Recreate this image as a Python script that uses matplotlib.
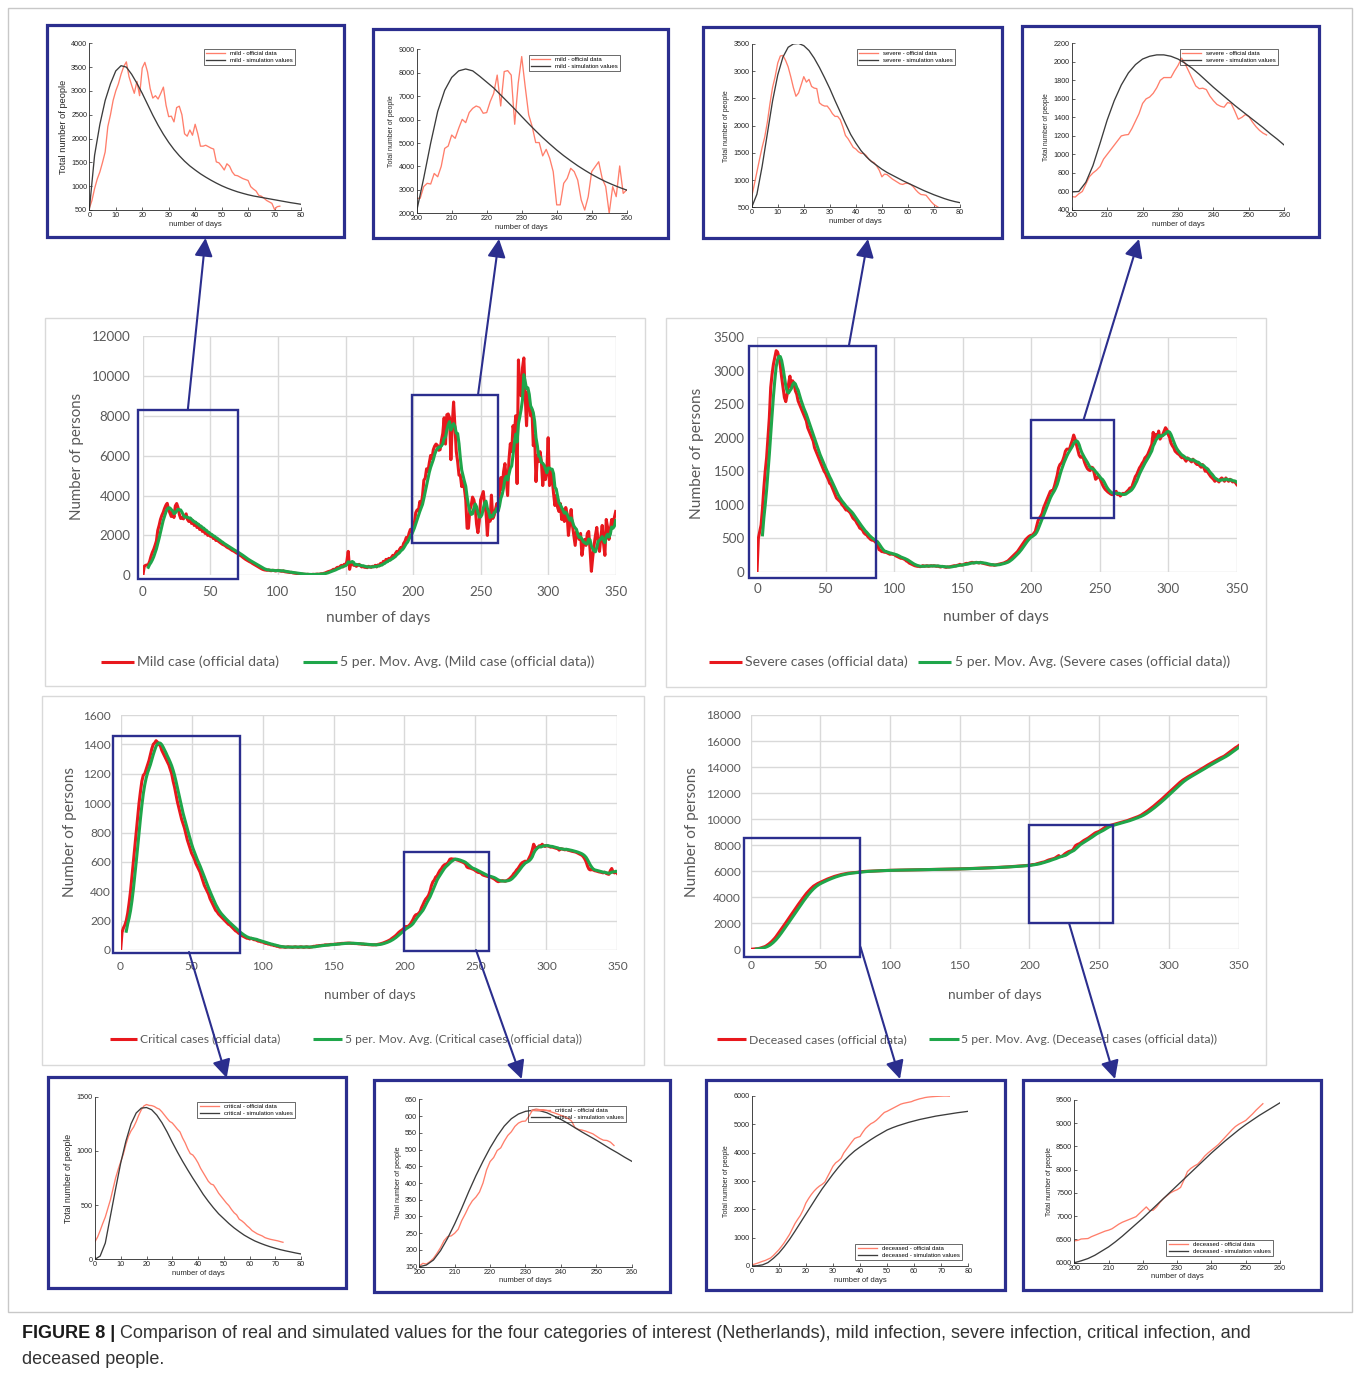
import numpy as np
import pandas as pd
import matplotlib
matplotlib.use("Agg")
import matplotlib.pyplot as plt
from matplotlib.patches import Rectangle, FancyArrowPatch

# ---------------------------------------------------------------------------
# Official daily counts, day 0 .. 350
# ---------------------------------------------------------------------------
mild_official = [
    0, 450, 500, 520, 535, 700, 950, 1150, 1300, 1500,
    1720, 2250, 2500, 2800, 3000, 3150, 3350, 3510, 3610, 3300,
    3120, 2950, 3200, 2900, 3480, 3600, 3400, 3050, 2850, 2900,
    2830, 2950, 3080, 2800, 2700, 2850, 2600, 2750, 2500, 2650,
    2400, 2550, 2300, 2450, 2200, 2350, 2100, 2200, 2000, 2100,
    1950, 2000, 1850, 1900, 1750, 1800, 1700, 1650, 1600, 1550,
    1520, 1480, 1420, 1380, 1350, 1300, 1250, 1220, 1180, 1130,
    1100, 1050, 1000, 960, 900, 850, 800, 760, 720, 680,
    650, 600, 560, 520, 480, 440, 400, 360, 320, 290,
    270, 260, 250, 270, 240, 230, 250, 240, 220, 230,
    250, 230, 210, 200, 220, 180, 170, 160, 150, 140,
    150, 120, 110, 100, 90, 80, 70, 60, 60, 50,
    50, 40, 50, 40, 30, 40, 50, 40, 50, 60,
    50, 60, 80, 70, 100, 120, 150, 180, 200, 220,
    250, 300, 280, 350, 400, 380, 450, 500, 420, 550,
    500, 700, 1200, 300, 600, 650, 500, 550, 450, 500,
    550, 480, 420, 450, 400, 430, 380, 450, 420, 400,
    450, 430, 500, 420, 520, 480, 600, 550, 700, 650,
    800, 700, 850, 780, 900, 1000, 950, 1100, 1200, 1150,
    1300, 1400, 1350, 1600, 1700, 1900, 1800, 2100, 2300, 2200,
    2640, 2640, 3140, 3280, 3250, 3700, 3560, 4000, 4770, 4870,
    5340, 5200, 5630, 6010, 5870, 6300, 6480, 6580, 6520, 6270,
    6300, 6770, 7120, 7900, 6580, 8050, 8090, 7900, 5800, 7550,
    8690, 7400, 6200, 5700, 5020, 5020, 4450, 4730, 4350, 3780,
    2360, 2360, 3280, 3490, 3920, 3780, 3420, 2570, 2140, 2710,
    3780, 3990, 4200, 3490, 3140, 2000, 3140, 2710, 4020, 2850,
    3000, 3300, 3600, 3300, 4200, 4900, 4300, 5200, 5600, 4800,
    4000, 5800, 6600, 6200, 7500, 7100, 8000, 4600, 10800, 9200,
    9000, 10400, 10900, 9000, 7500, 9200, 8800, 8000, 8300, 6500,
    7000, 4700, 6000, 5700, 6200, 5700, 4500, 5500, 4800, 5200,
    6900, 4500, 5200, 4800, 4100, 3500, 4000, 3400, 3200, 3600,
    2800, 3300, 2700, 3400, 3100, 2000, 2600, 3300, 2500, 2000,
    1500, 2200, 2000, 1800, 2100, 1000, 1500, 1800, 1500, 2100,
    2200, 1300, 200, 900, 1500, 2000, 2400, 1700, 1200, 1900,
    2500, 1600, 1000, 2800, 2400, 1800, 2300, 2800, 2500, 2900,
    3200,
]

severe_official = [
    0, 500, 600, 700, 950, 1250, 1500, 1700, 2000, 2300,
    2750, 2950, 3100, 3200, 3300, 3280, 3200, 3080, 2900, 2750,
    2600, 2540, 2650, 2800, 2920, 2750, 2850, 2800, 2700, 2650,
    2550, 2500, 2450, 2400, 2350, 2300, 2250, 2150, 2100, 2050,
    2000, 1950, 1850, 1800, 1750, 1700, 1650, 1600, 1550, 1500,
    1470, 1420, 1380, 1320, 1300, 1250, 1200, 1150, 1100, 1080,
    1060, 1040, 1000, 980, 950, 920, 930, 900, 880, 840,
    800, 780, 760, 720, 690, 650, 640, 620, 580, 560,
    550, 520, 500, 480, 470, 480, 450, 430, 400, 330,
    320, 300, 300, 290, 300, 280, 270, 260, 270, 260,
    260, 240, 230, 220, 210, 200, 200, 190, 180, 160,
    150, 130, 120, 110, 100, 90, 85, 80, 80, 75,
    80, 90, 80, 85, 90, 80, 85, 90, 85, 90,
    85, 80, 85, 75, 70, 80, 75, 70, 65, 70,
    70, 75, 80, 85, 90, 85, 95, 100, 110, 100,
    100, 110, 120, 125, 120, 130, 135, 140, 130, 135,
    140, 135, 130, 140, 130, 125, 120, 115, 110, 105,
    100, 100, 105, 95, 100, 105, 110, 115, 120, 125,
    130, 140, 150, 160, 180, 200, 220, 240, 260, 280,
    300, 330, 360, 390, 420, 450, 480, 500, 520, 535,
    545, 540, 575, 600, 680, 760, 800, 830, 870, 950,
    1000, 1050, 1100, 1150, 1200, 1210, 1215, 1280, 1360, 1440,
    1550, 1600, 1620, 1660, 1720, 1800, 1830, 1830, 1830, 1900,
    1960, 2040, 1980, 1900, 1820, 1740, 1710, 1715, 1700, 1630,
    1580, 1540, 1520, 1510, 1560, 1550, 1470, 1380, 1400, 1430,
    1410, 1350, 1300, 1260, 1230, 1210, 1190, 1175, 1160, 1150,
    1170, 1180, 1200, 1150, 1160, 1130, 1150, 1170, 1160, 1180,
    1200, 1220, 1250, 1230, 1300, 1360, 1420, 1450, 1500, 1550,
    1580, 1620, 1650, 1700, 1720, 1750, 1800, 1850, 1900, 2080,
    1950, 2050, 2000, 2100, 1980, 2020, 2050, 2100, 2150, 2120,
    2050, 2000, 1920, 1880, 1850, 1800, 1780, 1760, 1750, 1720,
    1700, 1720, 1680, 1650, 1700, 1680, 1660, 1640, 1680, 1650,
    1620, 1600, 1620, 1580, 1560, 1600, 1550, 1500, 1520, 1480,
    1450, 1420, 1400, 1380, 1350, 1380, 1360, 1340, 1380, 1400,
    1380, 1350, 1400, 1370, 1350, 1380, 1360, 1340, 1350, 1330,
    1300,
]

critical_official = [
    0, 120, 150, 170, 200, 250, 320, 400, 500, 600,
    700, 800, 900, 1000, 1080, 1150, 1190, 1200, 1230, 1260,
    1290, 1330, 1370, 1400, 1410, 1425, 1415, 1400, 1390, 1360,
    1340, 1320, 1300, 1280, 1260, 1230, 1200, 1150, 1110, 1060,
    1010, 970, 930, 890, 860, 830, 790, 750, 720, 690,
    660, 640, 620, 590, 570, 550, 530, 500, 470, 440,
    420, 400, 380, 350, 330, 310, 290, 270, 260, 245,
    235, 225, 215, 205, 195, 185, 175, 170, 160, 150,
    140, 130, 125, 115, 110, 100, 95, 90, 85, 80,
    80, 75, 80, 75, 70, 70, 65, 60, 60, 55,
    55, 50, 45, 45, 40, 40, 35, 35, 30, 30,
    25, 25, 20, 20, 22, 20, 18, 20, 22, 20,
    20, 18, 20, 22, 20, 18, 20, 22, 20, 18,
    20, 22, 20, 18, 20, 22, 25, 25, 28, 28,
    30, 30, 32, 32, 35, 35, 35, 36, 38, 38,
    38, 40, 40, 42, 42, 44, 45, 45, 46, 46,
    47, 47, 46, 45, 45, 44, 44, 43, 42, 42,
    40, 40, 38, 38, 37, 36, 36, 35, 35, 36,
    35, 38, 40, 42, 45, 48, 52, 56, 60, 65,
    70, 78, 85, 92, 100, 110, 120, 128, 135, 142,
    152, 160, 158, 165, 175, 190, 207, 228, 240, 242,
    250, 262, 288, 308, 330, 347, 358, 373, 400, 439,
    464, 476, 497, 505, 525, 542, 553, 569, 579, 584,
    585, 600, 618, 621, 619, 619, 617, 613, 610, 606,
    602, 598, 593, 585, 565, 560, 558, 555, 551, 547,
    540, 533, 528, 527, 522, 512, 508, 505, 502, 500,
    500, 495, 490, 485, 478, 470, 465, 468, 470, 472,
    470, 468, 472, 478, 485, 495, 505, 520, 530, 545,
    555, 570, 585, 595, 600, 605, 600, 610, 630, 650,
    680, 720, 700, 690, 700, 710, 705, 720, 710, 705,
    712, 708, 705, 700, 702, 698, 695, 692, 690, 680,
    690, 688, 685, 682, 685, 680, 678, 675, 672, 670,
    668, 665, 660, 655, 650, 645, 635, 620, 600, 570,
    550, 545, 548, 545, 540, 538, 535, 532, 530, 528,
    525, 530, 522, 518, 515, 540, 555, 530, 525, 532,
    520,
]

deceased_official = [
    0, 10, 20, 30, 40, 50, 70, 100, 130, 170,
    200, 260, 330, 410, 500, 600, 710, 830, 960, 1110,
    1260, 1410, 1560, 1710, 1860, 2020, 2180, 2340, 2490, 2650,
    2800, 2960, 3120, 3280, 3430, 3580, 3730, 3880, 4020, 4160,
    4300, 4420, 4540, 4650, 4750, 4850, 4920, 4990, 5050, 5100,
    5150, 5200, 5250, 5300, 5350, 5400, 5440, 5480, 5520, 5560,
    5600, 5630, 5660, 5690, 5720, 5750, 5770, 5790, 5810, 5830,
    5850, 5860, 5870, 5880, 5890, 5900, 5910, 5920, 5940, 5960,
    5970, 5980, 5985, 5990, 5995, 6000, 6005, 6010, 6020, 6025,
    6030, 6035, 6040, 6045, 6050, 6052, 6055, 6058, 6062, 6065,
    6068, 6070, 6072, 6075, 6078, 6080, 6082, 6085, 6088, 6090,
    6092, 6094, 6096, 6098, 6100, 6102, 6104, 6106, 6108, 6110,
    6112, 6114, 6116, 6118, 6120, 6122, 6124, 6126, 6128, 6130,
    6132, 6134, 6136, 6138, 6140, 6142, 6144, 6146, 6148, 6150,
    6152, 6154, 6156, 6158, 6160, 6163, 6166, 6169, 6172, 6175,
    6178, 6181, 6184, 6187, 6190, 6194, 6198, 6202, 6206, 6210,
    6214, 6218, 6222, 6226, 6230, 6234, 6238, 6242, 6246, 6250,
    6255, 6260, 6265, 6270, 6275, 6280, 6285, 6290, 6295, 6300,
    6306, 6312, 6318, 6324, 6330, 6337, 6344, 6351, 6358, 6365,
    6373, 6381, 6389, 6397, 6405, 6414, 6423, 6432, 6441, 6450,
    6470, 6480, 6510, 6515, 6520, 6560, 6590, 6620, 6650, 6680,
    6700, 6730, 6780, 6830, 6870, 6900, 6930, 6960, 6990, 7060,
    7130, 7200, 7120, 7130, 7200, 7300, 7380, 7440, 7500, 7540,
    7570, 7620, 7780, 7960, 8030, 8080, 8120, 8200, 8290, 8360,
    8420, 8480, 8540, 8620, 8700, 8780, 8860, 8930, 8980, 9020,
    9060, 9130, 9200, 9280, 9350, 9420, 9460, 9490, 9520, 9550,
    9580, 9610, 9640, 9670, 9700, 9730, 9760, 9790, 9820, 9850,
    9880, 9920, 9960, 10000, 10040, 10080, 10120, 10160, 10200, 10250,
    10300, 10370, 10440, 10510, 10580, 10660, 10740, 10820, 10900, 10990,
    11080, 11170, 11260, 11350, 11440, 11540, 11640, 11740, 11840, 11940,
    12040, 12140, 12240, 12340, 12440, 12540, 12640, 12740, 12830, 12920,
    13000, 13070, 13140, 13210, 13270, 13330, 13390, 13450, 13510, 13570,
    13630, 13700, 13760, 13830, 13900, 13960, 14030, 14100, 14160, 14220,
    14280, 14340, 14400, 14460, 14520, 14580, 14640, 14700, 14750, 14800,
    14860, 14940, 15020, 15100, 15180, 15260, 15340, 15420, 15500, 15560,
    15640,
]

# First-wave official series counted from the model's day 0
mild_wave1_official = [
    535, 700, 950, 1150, 1300, 1500, 1720, 2250, 2500, 2800,
    3000, 3150, 3350, 3510, 3610, 3300, 3120, 2950, 3200, 2900,
    3480, 3600, 3400, 3050, 2850, 2900, 2830, 2950, 3080, 2700,
    2460, 2470, 2350, 2650, 2680, 2500, 2100, 2050, 2180, 2070,
    2300, 2100, 1840, 1840, 1860, 1830, 1800, 1780, 1510, 1490,
    1420, 1340, 1470, 1420, 1300, 1230, 1220, 1190, 1160, 1140,
    1120, 990, 940, 900, 810, 790, 750, 700, 670, 640,
    510, 570, 580,
]
severe_wave1_official = [
    696, 920, 1150, 1380, 1600, 1790, 2060, 2400, 2700, 2900,
    3150, 3280, 3290, 3200, 3080, 2900, 2700, 2540, 2600, 2750,
    2900, 2800, 2850, 2720, 2690, 2680, 2420, 2380, 2360, 2360,
    2300, 2220, 2170, 2170, 2110, 1980, 1820, 1760, 1680, 1600,
    1570, 1520, 1490, 1490, 1450, 1380, 1345, 1320, 1260, 1180,
    1060, 1110, 1100, 1060, 1020, 990, 960, 930, 920, 940,
    940, 920, 880, 820, 770, 735, 730, 720, 660, 600,
    550, 520, 490,
]
critical_wave1_official = [
    163, 205, 265, 330, 390, 470, 550, 650, 750, 830,
    900, 970, 1060, 1135, 1185, 1220, 1270, 1330, 1380, 1415,
    1428, 1420, 1418, 1410, 1395, 1385, 1360, 1330, 1300, 1272,
    1258, 1230, 1200, 1175, 1120, 1075, 1020, 975, 962, 930,
    890, 840, 800, 760, 720, 695, 686, 650, 610, 580,
    550, 520, 495, 460, 430, 410, 370, 355, 335, 310,
    290, 265, 250, 235, 225, 215, 200, 192, 185, 180,
    175, 170, 163, 157,
]
deceased_wave1_official = [
    35, 65, 95, 130, 165, 195, 240, 285, 370, 470,
    570, 690, 820, 970, 1120, 1310, 1500, 1650, 1790, 1980,
    2220, 2380, 2520, 2640, 2740, 2820, 2880, 2960, 3150, 3330,
    3520, 3640, 3710, 3800, 3990, 4120, 4250, 4380, 4500, 4540,
    4570, 4720, 4850, 4940, 5020, 5070, 5140, 5230, 5330, 5420,
    5460, 5510, 5560, 5610, 5660, 5710, 5740, 5760, 5780, 5800,
    5840, 5870, 5900, 5920, 5945, 5960, 5970, 5978, 5985, 5990,
    5995, 6000, 6000, 5995,
]

# Model output, sampled every second day
sim_days_wave1 = np.arange(0, 81, 2)
sim_days_wave2 = np.arange(200, 261, 2)
mild_sim_wave1 = [
    500, 1650, 2300, 2800, 3150, 3420, 3530, 3500, 3350, 3160,
    2950, 2720, 2490, 2280, 2090, 1920, 1770, 1640, 1525, 1425,
    1340, 1260, 1190, 1125, 1065, 1010, 962, 920, 882, 850,
    820, 795, 775, 755, 735, 715, 695, 675, 655, 638, 620,
]
mild_sim_wave2 = [
    2100, 3500, 5000, 6350, 7250, 7800, 8080, 8160, 8080, 7850,
    7600, 7350, 7050, 6750, 6450, 6130, 5820, 5520, 5230, 4960,
    4700, 4460, 4240, 4030, 3840, 3660, 3500, 3350, 3220, 3100, 2990,
]
severe_sim_wave1 = [
    500, 740, 1250, 1850, 2450, 2930, 3260, 3440, 3500, 3510,
    3470, 3380, 3240, 3070, 2880, 2680, 2460, 2250, 2040, 1840,
    1680, 1540, 1430, 1340, 1270, 1200, 1140, 1090, 1040, 990,
    945, 900, 855, 810, 770, 730, 695, 660, 630, 605, 585,
]
severe_sim_wave2 = [
    595, 600, 700, 880, 1120, 1370, 1580, 1750, 1880, 1970,
    2030, 2060, 2075, 2075, 2060, 2030, 1985, 1930, 1865, 1795,
    1725, 1660, 1595, 1530, 1470, 1410, 1350, 1290, 1225, 1165, 1100,
]
critical_sim_wave1 = [
    0, 30, 150, 400, 650, 890, 1090, 1250, 1350, 1395,
    1400, 1380, 1330, 1260, 1175, 1080, 990, 905, 825, 748,
    675, 600, 535, 475, 420, 375, 330, 290, 255, 222,
    195, 170, 150, 132, 116, 102, 89, 78, 68, 58, 49,
]
critical_sim_wave2 = [
    150, 155, 170, 198, 235, 278, 325, 375, 422, 465,
    505, 540, 570, 592, 606, 614, 617, 616, 610, 600,
    590, 578, 565, 552, 540, 528, 515, 502, 490, 477, 465,
]
deceased_sim_wave1 = [
    0, 10, 40, 120, 270, 450, 680, 940, 1230, 1530,
    1830, 2130, 2430, 2720, 2980, 3240, 3480, 3700, 3890, 4060,
    4200, 4330, 4460, 4580, 4690, 4800, 4880, 4950, 5010, 5070,
    5120, 5170, 5210, 5250, 5290, 5320, 5350, 5380, 5410, 5435, 5460,
]
deceased_sim_wave2 = [
    6000, 6040, 6090, 6160, 6250, 6340, 6450, 6570, 6700, 6830,
    6960, 7100, 7240, 7380, 7520, 7660, 7800, 7940, 8080, 8220,
    8360, 8490, 8620, 8740, 8860, 8970, 9070, 9170, 9260, 9350, 9440,
]

for series in (mild_official, severe_official, critical_official, deceased_official):
    assert len(series) == 351

# ---------------------------------------------------------------------------
# Figure set-up
# ---------------------------------------------------------------------------
W, H = 1360, 1378
fig = plt.figure(figsize=(W / 100, H / 100), dpi=100)
fig.patch.set_facecolor("white")
renderer = fig.canvas.get_renderer()

RED = "#E8181D"
GREEN = "#1FA64A"
BLUE = "#2B2E8E"
GRID = "#D9D9D9"
TXT = "#595959"
SALMON = "#FF7E6B"
SIMC = "#3C3C3C"
INK = "#262626"
MAIN_FONT = ["Lato", "DejaVu Sans"]
SMALL_FONT = ["Liberation Sans", "DejaVu Sans"]
plt.rcParams["font.family"] = MAIN_FONT


def axes_px(l, t, r, b, **kw):
    return fig.add_axes([l / W, 1 - b / H, (r - l) / W, (b - t) / H], **kw)


# full-figure layer in pixel units (y grows downwards) for frames, arrows, text
overlay = axes_px(0, 0, W, H, zorder=20)
overlay.set_xlim(0, W)
overlay.set_ylim(H, 0)
overlay.axis("off")


def fit(text, target, dim="width"):
    bb = text.get_window_extent(renderer)
    cur = bb.width if dim == "width" else bb.height
    text.set_fontsize(text.get_fontsize() * target / cur)
    return text.get_fontsize()


def main_panel(values, frame, plot, ymax, ystep, tick_pt, xpad, ypad, boxes,
               xlab, ylab, legend, names):
    l, t, r, b = frame
    overlay.add_patch(Rectangle((l, t), r - l, b - t, fill=False, ec=GRID, lw=1.0))
    ax = axes_px(*plot)
    s = pd.Series(values, index=np.arange(len(values)))
    ax.plot(s.index, s.values, color=RED, lw=2.2, zorder=3)
    ax.plot(s.index, s.rolling(5).mean().values, color=GREEN, lw=2.2, zorder=4)
    ax.set_xlim(0, 350)
    ax.set_ylim(0, ymax)
    ax.set_xticks(np.arange(0, 351, 50))
    ax.set_yticks(np.arange(0, ymax + 1, ystep))
    ax.grid(True, color=GRID, lw=1.0)
    ax.set_axisbelow(True)
    for sp in ax.spines.values():
        sp.set_visible(False)
    ax.tick_params(axis="x", length=0, labelsize=tick_pt, labelcolor=TXT, pad=xpad)
    ax.tick_params(axis="y", length=0, labelsize=tick_pt, labelcolor=TXT, pad=ypad)
    for x0, x1, y0, y1 in boxes:
        ax.add_patch(Rectangle((x0, y0), x1 - x0, y1 - y0, fill=False, ec=BLUE,
                               lw=1.7, clip_on=False, zorder=6))
    # axis titles
    tx = overlay.text(xlab[0], xlab[1], "number of days", ha="center", va="center",
                      color=TXT, fontsize=11)
    fit(tx, xlab[2])
    ty = overlay.text(ylab[0], ylab[1], "Number of persons", ha="center", va="center",
                      rotation=90, color=TXT, fontsize=11)
    fit(ty, ylab[2], "height")
    # legend row
    r0, r1, t1x, g0, g1, t2x, ly, w2 = legend
    overlay.plot([r0, r1], [ly, ly], color=RED, lw=2.2, solid_capstyle="butt")
    overlay.plot([g0, g1], [ly, ly], color=GREEN, lw=2.2, solid_capstyle="butt")
    t2 = overlay.text(t2x, ly, names[1], ha="left", va="center", color=TXT, fontsize=10)
    size = fit(t2, w2)
    overlay.text(t1x, ly, names[0], ha="left", va="center", color=TXT, fontsize=size)
    return ax


def inset(frame, plot, off_x, off_y, sim_x, sim_y, xlim, xticks, ylim, yticks,
          names, leg_loc, leg_xy, ylab_h):
    l, t, r, b = frame
    overlay.add_patch(Rectangle((l, t), r - l, b - t, fill=False, ec=BLUE, lw=2.3))
    ax = axes_px(*plot)
    ax.plot(off_x, off_y, color=SALMON, lw=0.95, label=names[0])
    ax.plot(sim_x, sim_y, color=SIMC, lw=0.95, label=names[1])
    ax.set_xlim(*xlim)
    ax.set_ylim(*ylim)
    ax.set_xticks(xticks)
    ax.set_yticks(yticks)
    for side in ("top", "right"):
        ax.spines[side].set_visible(False)
    for side in ("left", "bottom"):
        ax.spines[side].set_color(INK)
        ax.spines[side].set_linewidth(0.6)
    ax.tick_params(direction="in", length=2, width=0.5, labelsize=5.2, pad=1.5,
                   colors=INK)
    for lab in ax.get_xticklabels() + ax.get_yticklabels():
        lab.set_fontfamily(SMALL_FONT)
    ax.set_xlabel("number of days", fontsize=5.5, labelpad=1.2, family=SMALL_FONT,
                  color=INK)
    yl = ax.set_ylabel("Total number of people", fontsize=5.4, labelpad=2.5,
                       family=SMALL_FONT, color=INK)
    fit(yl, ylab_h, "height")
    leg = ax.legend(loc=leg_loc, bbox_to_anchor=(leg_xy[0] / W, 1 - leg_xy[1] / H),
                    bbox_transform=fig.transFigure, prop={"family": SMALL_FONT, "size": 4.3},
                    frameon=True, fancybox=False, edgecolor=INK, facecolor="none",
                    borderpad=0.35, handlelength=3.3, handletextpad=0.8,
                    labelspacing=0.25, borderaxespad=0)
    leg.get_frame().set_linewidth(0.6)
    return ax


def arrow(x0, y0, x1, y1):
    overlay.add_patch(FancyArrowPatch(
        (x0, y0), (x1, y1), arrowstyle="-|>,head_length=1.1,head_width=0.55",
        mutation_scale=10, color=BLUE, lw=1.5, shrinkA=0, shrinkB=0, zorder=30))


# ---------------------------------------------------------------------------
# Main panels
# ---------------------------------------------------------------------------
main_panel(mild_official, (44.7, 318, 645, 686.3), (142.9, 336, 615.7, 575.3),
           12000, 2000, 9.6, 8, 9,
           [(-3.8, 70.6, -200, 8290), (199.4, 262.5, 1605, 9040)],
           (378, 618, 104), (77, 456.7, 126.7),
           (100.6, 133.9, 137, 302.8, 337, 340, 662, 254.6),
           ("Mild case (official data)", "5 per. Mov. Avg. (Mild case (official data))"))

main_panel(severe_official, (665.9, 318, 1266, 686.7), (757, 337.3, 1236.8, 571.7),
           3500, 500, 9.6, 8, 9,
           [(-5.7, 87.0, -99, 3375), (199.7, 260.7, 797, 2265)],
           (996, 616.7, 105.6), (697, 453, 131.7),
           (708.9, 742, 745, 918, 951, 955, 661.7, 274),
           ("Severe cases (official data)",
            "5 per. Mov. Avg. (Severe cases (official data))"))

main_panel(critical_official, (41.9, 696, 644, 1065), (120.6, 715, 617.4, 950),
           1600, 200, 8.6, 8, 7,
           [(-5.6, 84.0, -22, 1457), (199.9, 259.5, -5, 665)],
           (369.8, 995, 91.4), (69.7, 831.7, 130.7),
           (109.5, 137.3, 140.5, 313, 342, 344.8, 1039, 237),
           ("Critical cases (official data)",
            "5 per. Mov. Avg. (Critical cases (official data))"))

main_panel(deceased_official, (663.7, 696, 1266, 1065), (750.8, 715, 1238.5, 949.3),
           18000, 2000, 8.6, 8, 7,
           [(-4.6, 78.2, -568, 8527), (199.9, 259.9, 1997, 9549)],
           (994.8, 995, 93.4), (691.6, 831.7, 130.7),
           (716.6, 746.4, 748.8, 929, 959, 961, 1039.3, 256.4),
           ("Deceased cases (official data)",
            "5 per. Mov. Avg. (Deceased cases (official data))"))

# ---------------------------------------------------------------------------
# Model-versus-data insets
# ---------------------------------------------------------------------------
wave1_ticks = np.arange(0, 81, 10)
wave2_ticks = np.arange(200, 261, 10)

inset((46.7, 25, 344, 236.7), (89.3, 43.3, 301, 210),
      np.arange(len(mild_wave1_official)), mild_wave1_official,
      sim_days_wave1, mild_sim_wave1, (0, 80), wave1_ticks,
      (500, 4000), np.arange(500, 4001, 500),
      ("mild - official data", "mild - simulation values"), "upper right", (295, 49), 95)

inset((373.3, 29, 668.3, 238.3), (416.7, 49.3, 626.7, 213.3),
      np.arange(200, 261), mild_official[200:261],
      sim_days_wave2, mild_sim_wave2, (200, 260), wave2_ticks,
      (2000, 9000), np.arange(2000, 9001, 1000),
      ("mild - official data", "mild - simulation values"), "upper right", (620, 55), 72)

inset((703.3, 26.7, 1001.7, 238.3), (751.7, 44, 960, 207.3),
      np.arange(len(severe_wave1_official)), severe_wave1_official,
      sim_days_wave1, severe_sim_wave1, (0, 80), wave1_ticks,
      (500, 3500), np.arange(500, 3501, 500),
      ("severe - official data", "severe - simulation values"), "upper right", (955, 49), 72)

inset((1022.3, 26, 1319, 236.7), (1071.7, 43.3, 1284.3, 210),
      np.arange(200, 256), severe_official[200:256],
      sim_days_wave2, severe_sim_wave2, (200, 260), wave2_ticks,
      (400, 2200), np.arange(400, 2201, 200),
      ("severe - official data", "severe - simulation values"), "upper right", (1278, 49), 68)

inset((48.3, 1077.3, 346, 1288.3), (95, 1096.7, 301, 1259.3),
      np.arange(len(critical_wave1_official)), critical_wave1_official,
      sim_days_wave1, critical_sim_wave1, (0, 80), wave1_ticks,
      (0, 1500), np.arange(0, 1501, 500),
      ("critical - official data", "critical - simulation values"), "upper right",
      (295, 1102), 90)

inset((374, 1080, 670, 1291.7), (419.3, 1099.3, 631.7, 1266.7),
      np.arange(200, 256), critical_official[200:256],
      sim_days_wave2, critical_sim_wave2, (200, 260), wave2_ticks,
      (150, 650), np.arange(150, 651, 50),
      ("critical - official data", "critical - simulation values"), "upper right",
      (626, 1106), 73)

inset((706, 1080, 1005, 1290), (751.7, 1096, 968.3, 1266),
      np.arange(len(deceased_wave1_official)), deceased_wave1_official,
      sim_days_wave1, deceased_sim_wave1, (0, 80), wave1_ticks,
      (0, 6000), np.arange(0, 6001, 1000),
      ("deceased - official data", "deceased - simulation values"), "lower right",
      (962, 1260), 72)

inset((1023.3, 1080, 1321, 1290), (1074.3, 1100, 1280, 1262.7),
      np.arange(200, 256), deceased_official[200:256],
      sim_days_wave2, deceased_sim_wave2, (200, 260), wave2_ticks,
      (6000, 9500), np.arange(6000, 9501, 500),
      ("deceased - official data", "deceased - simulation values"), "lower right",
      (1273, 1256), 70)

# connectors from the highlighted windows to their zoomed views
arrow(187.8, 410, 205.5, 238)
arrow(478, 395, 499, 239)
arrow(848.9, 345.7, 868, 239)
arrow(1083.5, 420, 1139, 239)
arrow(189, 952, 226.7, 1078)
arrow(476, 950, 521.7, 1079)
arrow(860.5, 947, 900, 1079)
arrow(1069, 923, 1115, 1079)

# outer frame
overlay.add_patch(Rectangle((8, 8), 1344, 1304, fill=False, ec="#C8C8C8", lw=1.0))

# caption
CAP_FONT = ["Liberation Sans", "DejaVu Sans"]
head = overlay.text(22, 1334, "FIGURE 8 |", fontweight="bold", family=CAP_FONT,
                    fontsize=11, va="center", ha="left", color="#1A1A1A")
body_txt = (" Comparison of real and simulated values for the four categories of "
            "interest (Netherlands), mild infection, severe infection, critical "
            "infection, and")
hw = head.get_window_extent(renderer).width
body = overlay.text(22 + hw, 1334, body_txt, family=CAP_FONT, fontsize=11,
                    va="center", ha="left", color="#333333")
total = hw + body.get_window_extent(renderer).width
scale = (1246 - 22) / total
head.set_fontsize(11 * scale)
body.set_fontsize(11 * scale)
body.set_x(22 + head.get_window_extent(renderer).width)
overlay.text(22, 1360, "deceased people.", family=CAP_FONT, fontsize=11 * scale,
             va="center", ha="left", color="#333333")

fig.savefig("out.png", dpi=100, facecolor="white")
